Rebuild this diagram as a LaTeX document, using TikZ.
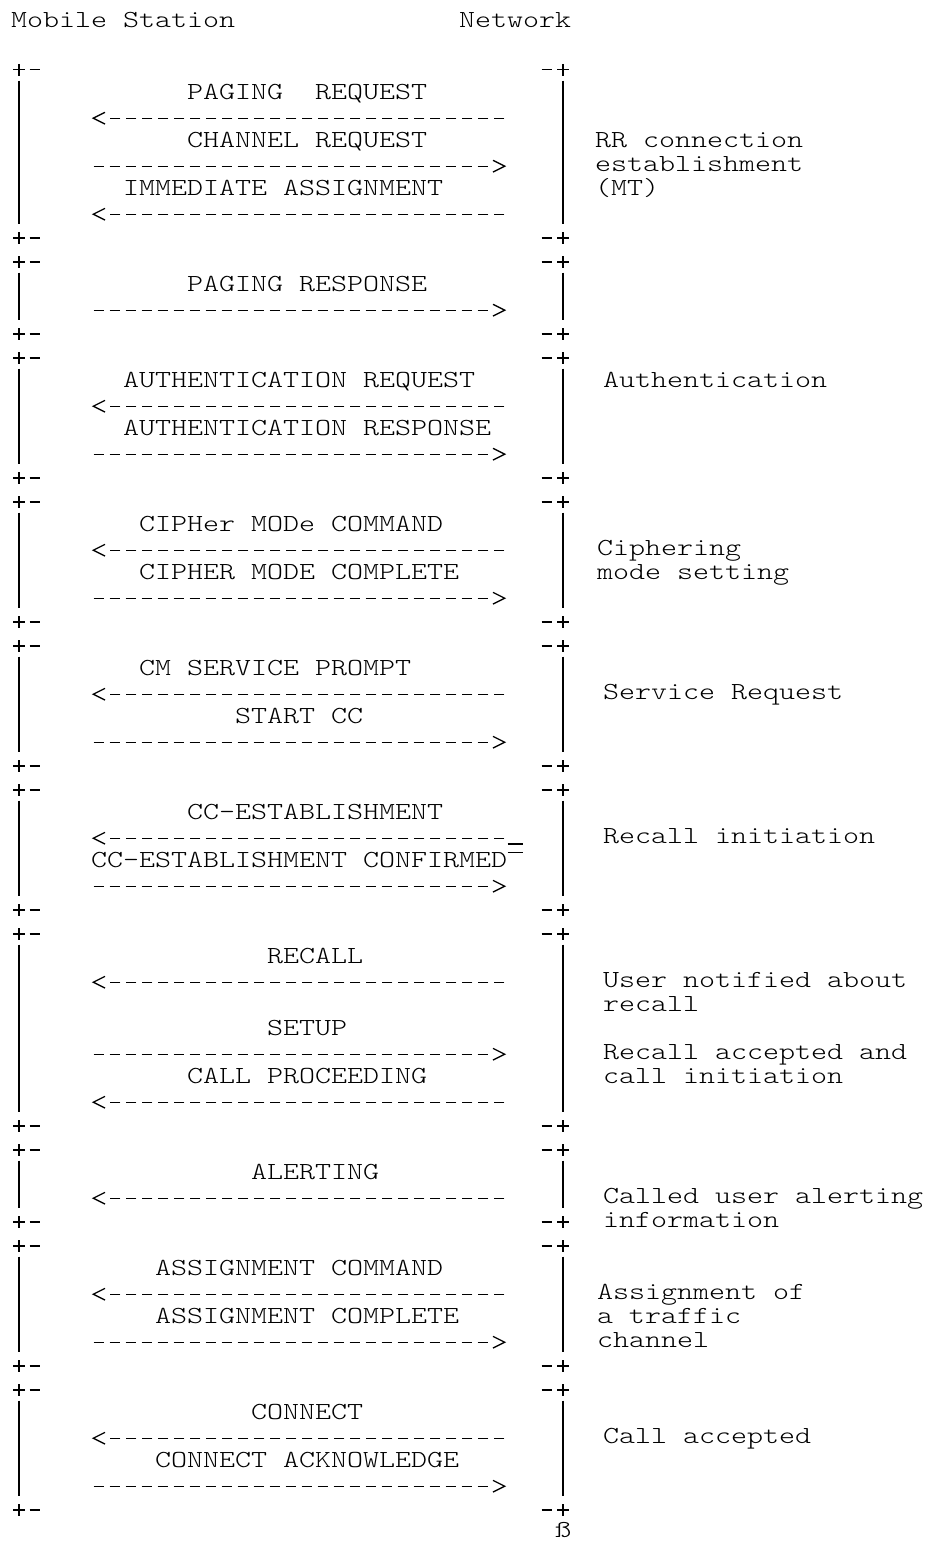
\documentclass[tikz,border=0pt]{standalone}
\usepackage{graphicx}
\tikzset{
  lbl/.style={anchor=base west, inner sep=0pt, outer sep=0pt,
    font=\fontsize{12.25}{12.25}\selectfont\ttfamily\fontseries{l}\selectfont},
  art/.style={line width=0.65pt, line cap=butt, line join=miter},
  dashart/.style={art, dash pattern=on 5.35pt off 2.65pt},
}
\newcommand\mono[1]{\scalebox{1.244}[1]{#1}}
\begin{document}
\begin{tikzpicture}[x=0.5pt,y=-0.5pt]
\useasboundingbox[fill=white] (0,0) rectangle (926,1541);
% header
\node[lbl] (ms) at (11,27.7) {\mono{Mobile Station}};
\node[lbl] (nw) at (459,27.7) {\mono{Network}};
% boxes
\foreach \a/\b in {3/10,11/14,15/20,21/26,27/32,33/38,39/47,48/51,52/57,58/63}{
  \foreach \L in {\a,\b}{
    \pgfmathsetmacro\yc{27.7+24*(\L-1)-5.85}
    \draw[art] (13.15,\yc) -- (24.85,\yc) (19,\yc-5.85) -- (19,\yc+5.85) (29.65,\yc) -- (40.35,\yc);
    \draw[art] (541.65,\yc) -- (552.35,\yc) (557.15,\yc) -- (568.85,\yc) (563,\yc-5.85) -- (563,\yc+5.85);
  }
  \pgfmathsetmacro\ya{27.7+24*(\a-1)+5}
  \pgfmathsetmacro\yb{27.7+24*(\b-1)-19.7}
  \coordinate (lt\a) at (19,\ya); \coordinate (lb\a) at (19,\yb);
  \coordinate (rt\a) at (563,\ya); \coordinate (rb\a) at (563,\yb);
  \draw[art] (lt\a) -- (lb\a);
  \draw[art] (rt\a) -- (rb\a);
}
% messages
\foreach \l/\c/\t in {4/11/{PAGING\ \ REQUEST},6/11/{CHANNEL REQUEST},8/7/{IMMEDIATE ASSIGNMENT},
  12/11/{PAGING RESPONSE},16/7/{AUTHENTICATION REQUEST},18/7/{AUTHENTICATION RESPONSE},
  22/8/{CIPHer MODe COMMAND},24/8/{CIPHER MODE COMPLETE},28/8/{CM SERVICE PROMPT},30/14/{START CC},
  34/11/{CC-ESTABLISHMENT},36/5/{CC-ESTABLISHMENT CONFIRMED},40/16/{RECALL},43/16/{SETUP},
  45/11/{CALL PROCEEDING},49/15/{ALERTING},53/9/{ASSIGNMENT COMMAND},55/9/{ASSIGNMENT COMPLETE},
  59/15/{CONNECT},61/9/{CONNECT ACKNOWLEDGE}}{
  \pgfmathsetmacro\yy{27.7+24*(\l-1)}
  \pgfmathsetmacro\xx{11+16*\c}
  \node[lbl] (m\l) at (\xx,\yy) {\mono{\t}};
}
% annotations
\foreach \l/\x/\t in {6/595/{RR connection},7/595/{establishment},8/595/{(MT)},16/603/{Authentication},
  23/597/{Ciphering},24/597/{mode setting},29/603/{Service Request},35/603/{Recall initiation},
  41/603/{User notified about},42/603/{recall},44/603/{Recall accepted and},45/603/{call initiation},
  50/603/{Called user alerting},51/603/{information},54/597/{Assignment of},55/597/{a traffic},56/597/{channel},
  60/603/{Call accepted}}{
  \pgfmathsetmacro\yy{27.7+24*(\l-1)}
  \node[lbl] (a\l) at (\x,\yy) {\mono{\t}};
}
% arrows to mobile station
\foreach \l in {5,9,17,23,29,35,41,46,50,54,60}{
  \pgfmathsetmacro\yd{27.7+24*(\l-1)-5.5}
  \coordinate (ls\l) at (504.35,\yd);
  \coordinate (le\l) at (109.65,\yd);
  \coordinate (lt\l) at (93.3,\yd);
  \draw[dashart] (ls\l) -- (le\l);
  \draw[art] ([shift={(11.7,-5.85)}]lt\l) -- (lt\l) -- ([shift={(11.7,5.85)}]lt\l);
}
% arrows to network
\foreach \l in {7,13,19,25,31,37,44,56,62}{
  \pgfmathsetmacro\yd{27.7+24*(\l-1)-5.5}
  \coordinate (rs\l) at (93.65,\yd);
  \coordinate (re\l) at (488.35,\yd);
  \coordinate (rt\l) at (504.7,\yd);
  \draw[dashart] (rs\l) -- (re\l);
  \draw[art] ([shift={(-11.7,-5.85)}]rt\l) -- (rt\l) -- ([shift={(-11.7,5.85)}]rt\l);
}
% stray marks
\coordinate (us1) at (507.5,844); \coordinate (us2) at (522.5,844);
\draw[art] (us1) -- (us2);
\coordinate (ov1) at (507.5,852.5); \coordinate (ov2) at (522.5,852.5);
\draw[art] (ov1) -- (ov2);
\node[lbl] (sz) at (555,1537) {\mono{ß}};
\end{tikzpicture}
\end{document}
